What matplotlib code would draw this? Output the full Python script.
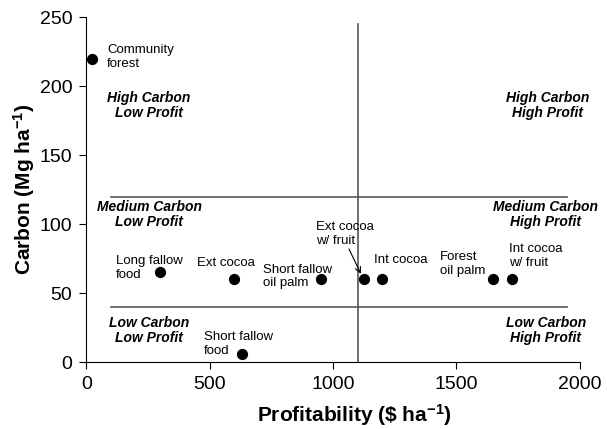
import matplotlib
matplotlib.use("Agg")
import matplotlib.pyplot as plt

plt.rcParams['font.family'] = ['Liberation Sans', 'DejaVu Sans']
plt.rcParams['mathtext.fontset'] = 'custom'
plt.rcParams['mathtext.rm'] = 'Liberation Sans'
plt.rcParams['mathtext.bf'] = 'Liberation Sans:bold'
plt.rcParams['mathtext.default'] = 'bf'

# land uses: profitability ($/ha) and carbon (Mg/ha)
names = ['Community\nforest', 'Long fallow\nfood', 'Ext cocoa', 'Short fallow\nfood',
         'Short fallow\noil palm', 'Ext cocoa\nw/ fruit', 'Int cocoa',
         'Forest\noil palm', 'Int cocoa\nw/ fruit']
profit = [25, 300, 600, 630, 950, 1125, 1200, 1650, 1725]
carbon = [220, 65, 60, 6, 60, 60, 60, 60, 60]

# where each label sits (left edge, vertical centre), data units
label_x = [85, 121, 449, 478, 717, 931, 1166, 1433, 1713]
label_y = [221, 68, 72, 13, 62, 93, 74, 71, 77]

quad_labels = ['High Carbon\nLow Profit', 'High Carbon\nHigh Profit',
               'Medium Carbon\nLow Profit', 'Medium Carbon\nHigh Profit',
               'Low Carbon\nLow Profit', 'Low Carbon\nHigh Profit']
quad_x = [255, 1871, 255, 1861, 255, 1862]
quad_y = [186, 186, 107, 107, 23, 23]

fig = plt.figure(figsize=(6.07, 4.29), dpi=100)
ax = fig.add_axes([0.142, 0.156, 0.813, 0.804])

# dividing lines
ax.plot([100, 1950], [120, 120], color='#555555', lw=1.2, zorder=1)
ax.plot([100, 1950], [40, 40], color='#555555', lw=1.2, zorder=1)
ax.plot([1100, 1100], [0, 245], color='#555555', lw=1.2, zorder=1)

ax.scatter(profit, carbon, s=50, color='black', zorder=3)

for i in range(len(names)):
    ax.text(label_x[i], label_y[i], names[i], ha='left', va='center',
            fontsize=9.5, linespacing=1.2)

# arrow for Ext cocoa w/ fruit
ax.annotate('', xy=(1113, 64), xytext=(1065, 82),
            arrowprops=dict(arrowstyle='->', color='black', lw=0.8, shrinkA=0, shrinkB=0))

for t, x, y in zip(quad_labels, quad_x, quad_y):
    ax.text(x, y, t, ha='center', va='center', fontsize=10, fontweight='bold',
            style='italic', linespacing=1.15)

ax.set_xlim(0, 2000)
ax.set_ylim(0, 250)
ax.set_xticks([0, 500, 1000, 1500, 2000])
ax.set_yticks([0, 50, 100, 150, 200, 250])
ax.tick_params(labelsize=14, direction='out', length=5, pad=5)
ax.spines['top'].set_visible(False)
ax.spines['right'].set_visible(False)
ax.set_xlabel('Profitability (\\$ ha$^{-1}$)', fontsize=15, fontweight='bold')
ax.set_ylabel('Carbon (Mg ha$^{-1}$)', fontsize=15, fontweight='bold')
ax.xaxis.set_label_coords(0.543, -0.115)
ax.yaxis.set_label_coords(-0.10, 0.5)

fig.savefig('out.png', dpi=100)
